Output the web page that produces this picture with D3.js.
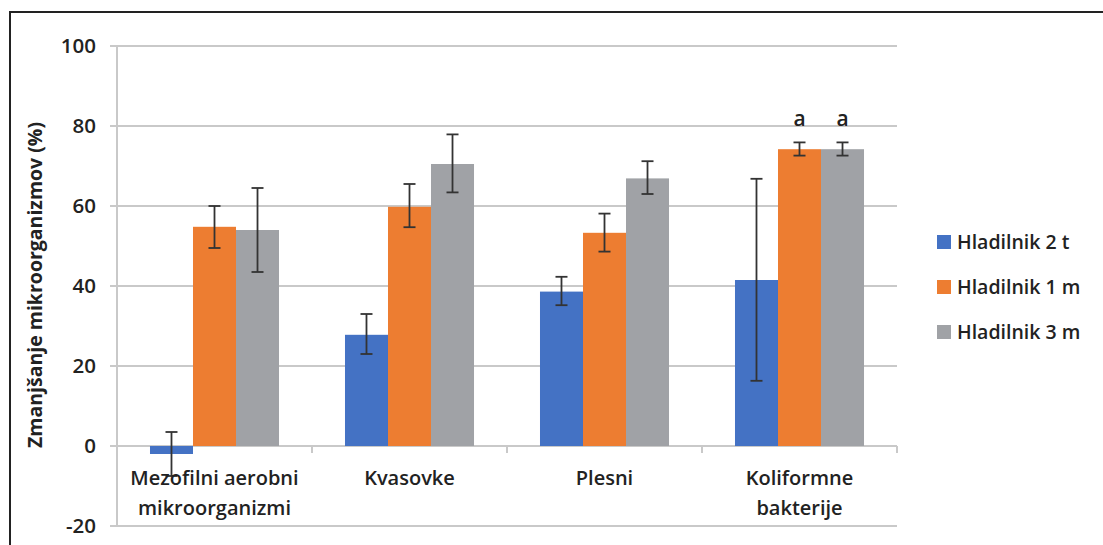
<!DOCTYPE html>
<html><head><meta charset="utf-8">
<script src="https://cdn.jsdelivr.net/npm/d3@7"></script>
<style>body{margin:0;background:#fff}svg{display:block}text{font-family:"Open Sans",sans-serif;fill:#222}</style>
</head><body><svg id="c" width="1103" height="545"></svg>
<script>
const categories = [["Mezofilni aerobni","mikroorganizmi"],["Kvasovke"],["Plesni"],["Koliformne","bakterije"]];
const seriesNames = ["Hladilnik 2 t","Hladilnik 1 m","Hladilnik 3 m"];
const colors = ["#4472C4","#ED7D31","#A0A2A6"];
const values = [[-2,27.8,38.6,41.5],[54.8,59.8,53.3,74.2],[54,70.5,66.9,74.2]];
const errLow = [[-7.5,23,35.2,16.3],[49.5,54.7,48.6,72.6],[43.5,63.4,63,72.6]];
const errHigh = [[3.5,33,42.3,66.8],[60,65.5,58.1,75.9],[64.5,77.9,71.2,75.9]];
const letters = [["","","",""],["","","","a"],["","","","a"]];
const yTicks = [-20,0,20,40,60,80,100];

const svg = d3.select("#c");
svg.append("path").attr("d","M10,546 L10,12 L1104,12").attr("fill","none").attr("stroke","#222").attr("stroke-width",2);

const L=117,R=897,T=46,B=526;
const y = d3.scaleLinear().domain([-20,100]).range([B,T]);
const x0 = d3.scaleBand().domain(d3.range(4)).range([L,R]).paddingInner(0).paddingOuter(0);
const x1 = d3.scaleBand().domain(d3.range(3)).range([0,x0.bandwidth()]).paddingInner(0).paddingOuter(0.767);

svg.append("g").selectAll("line").data(yTicks).join("line")
 .attr("x1",L-7).attr("x2",R).attr("y1",d=>y(d)).attr("y2",d=>y(d))
 .attr("stroke","#c9c9c9").attr("stroke-width",2);
svg.append("line").attr("x1",L).attr("x2",L).attr("y1",T).attr("y2",B).attr("stroke","#c9c9c9").attr("stroke-width",2);
svg.append("g").selectAll("line").data(d3.range(5)).join("line")
 .attr("x1",d=>L+d*x0.bandwidth()).attr("x2",d=>L+d*x0.bandwidth())
 .attr("y1",y(0)).attr("y2",y(0)+7).attr("stroke","#c9c9c9").attr("stroke-width",2);

svg.append("g").selectAll("text").data(yTicks).join("text")
 .attr("x",96).attr("y",d=>y(d)).attr("dy","0.36em").attr("text-anchor","end")
 .attr("font-size",20.5).attr("font-weight",600).text(d=>d);

svg.append("text").attr("transform","translate(42,285) rotate(-90)").attr("text-anchor","middle")
 .attr("font-size",19.5).attr("font-weight",700).text("Zmanjšanje mikroorganizmov (%)");

seriesNames.forEach((s,si)=>{
  svg.append("g").selectAll("rect").data(values[si]).join("rect")
   .attr("x",(d,i)=>x0(i)+x1(si)).attr("width",x1.bandwidth())
   .attr("y",d=>y(Math.max(0,d))).attr("height",d=>Math.abs(y(d)-y(0)))
   .attr("fill",colors[si]);
});
seriesNames.forEach((s,si)=>{
  const g = svg.append("g").attr("stroke","#333").attr("stroke-width",1.8);
  values[si].forEach((v,i)=>{
    const cx = x0(i)+x1(si)+x1.bandwidth()/2;
    g.append("line").attr("x1",cx).attr("x2",cx).attr("y1",y(errLow[si][i])).attr("y2",y(errHigh[si][i]));
    g.append("line").attr("x1",cx-6).attr("x2",cx+6).attr("y1",y(errHigh[si][i])).attr("y2",y(errHigh[si][i]));
    g.append("line").attr("x1",cx-6).attr("x2",cx+6).attr("y1",y(errLow[si][i])).attr("y2",y(errLow[si][i]));
    if(letters[si][i]) svg.append("text").attr("x",cx).attr("y",y(errHigh[si][i])-16).attr("text-anchor","middle")
      .attr("font-size",21).attr("font-weight",600).text(letters[si][i]);
  });
});

categories.forEach((lines,i)=>{
  const t = svg.append("text").attr("text-anchor","middle").attr("font-size",20).attr("font-weight",600);
  lines.forEach((ln,k)=>t.append("tspan").attr("x",x0(i)+x0.bandwidth()/2).attr("y",485+k*30).text(ln));
});

const lg = svg.append("g");
seriesNames.forEach((s,si)=>{
  const cy = 242+si*45;
  lg.append("rect").attr("x",937).attr("y",cy-7).attr("width",14).attr("height",14).attr("fill",colors[si]);
  lg.append("text").attr("x",957).attr("y",cy).attr("dy","0.36em").attr("font-size",19.5).attr("font-weight",600).text(s);
});
</script></body></html>
